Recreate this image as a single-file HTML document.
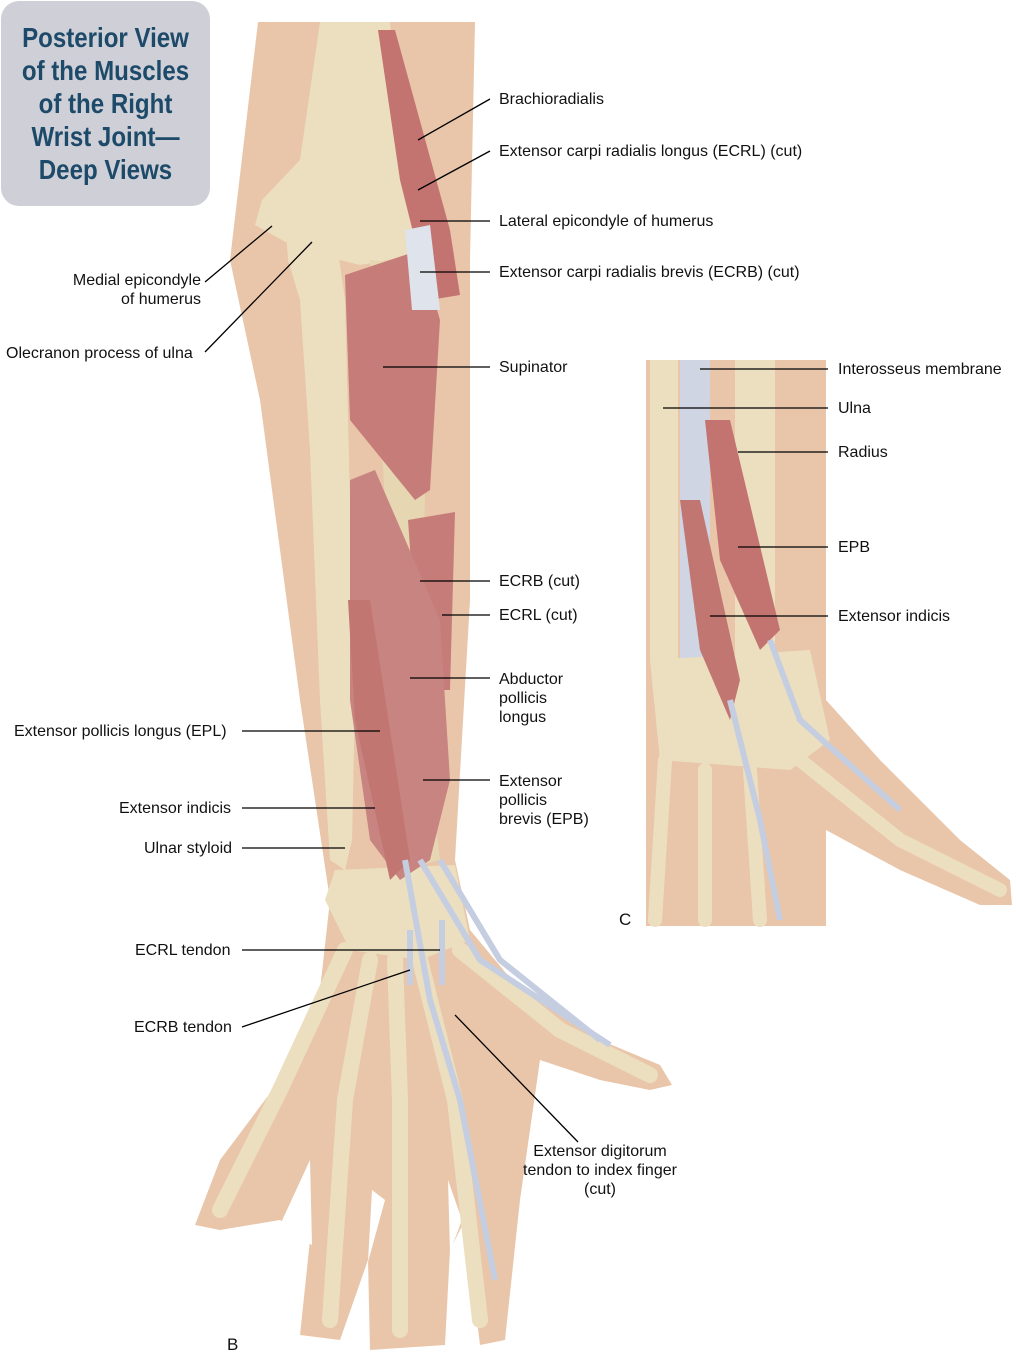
<!DOCTYPE html>
<html><head><meta charset="utf-8"><style>
html,body{margin:0;padding:0;background:#fff;}
body{width:1016px;height:1361px;position:relative;overflow:hidden;font-family:"Liberation Sans",Arial,sans-serif;}
.t{position:absolute;font-size:16px;color:#111;line-height:19px;white-space:nowrap;}
.r{text-align:right;}
#title{position:absolute;left:1px;top:1px;width:209px;height:205px;background:#cfcfd8;border-radius:18px;}
#title div{position:absolute;left:0;width:209px;text-align:center;color:#1d4a68;font-weight:bold;font-size:28px;line-height:33px;top:20px;transform:scaleX(0.86);}
</style></head><body>
<svg width="1016" height="1361" style="position:absolute;left:0;top:0">
<path d="M258 22 L475 22 L470 260 L470 600 L455 860 L470 930 L520 990 L600 1040 L660 1065 L672 1085 L650 1090 L600 1080 L540 1060 L520 1200 L505 1340 L480 1345 L465 1220 L450 1250 L445 1345 L370 1350 L368 1260 L340 1340 L300 1335 L310 1240 L280 1220 L220 1230 L195 1225 L220 1160 L280 1080 L320 990 L330 900 L300 700 L260 400 L230 260 Z" fill="#e9c6aa"/>
<!-- finger gaps -->
<g fill="#fff">
<path d="M280 1225 L310 1160 L312 1245 Z"/>
<path d="M368 1262 L372 1190 L385 1200 Z"/>
<path d="M450 1252 L448 1180 L462 1220 Z"/>
</g>
<path d="M320 22 L390 22 L400 150 L440 200 L445 250 L360 265 L300 250 L255 225 L262 200 L300 160 Z" fill="#ecdfc0"/>
<path d="M285 215 Q320 200 335 230 L345 300 L350 500 L355 700 L352 840 L345 870 L330 860 L320 700 L310 450 L300 300 L288 260 Z" fill="#ecdfc0"/>
<path d="M370 260 L420 265 L425 500 L420 700 L440 860 L400 870 L390 700 L385 500 Z" fill="#e6d6b2"/>
<path d="M335 870 L455 865 L470 940 L420 960 L350 950 L325 900 Z" fill="#ecdfc0"/>
<g stroke="#ecdfc0" stroke-width="16" stroke-linecap="round" fill="none">
<path d="M345 950 L280 1090 L220 1210"/>
<path d="M370 960 L345 1100 L330 1320"/>
<path d="M395 960 L400 1100 L400 1330"/>
<path d="M420 960 L455 1100 L480 1320"/>
<path d="M460 950 L560 1030 L650 1075"/>
</g>
<path d="M345 275 L420 250 L440 320 L430 490 L415 500 L350 420 Z" fill="#c67c78"/>
<path d="M378 30 L395 30 L450 230 L460 295 L430 300 L400 180 Z" fill="#c47470"/>
<path d="M405 230 L430 225 L440 310 L412 310 Z" fill="#dfe3ec"/>
<path d="M408 520 L455 512 L450 690 L420 690 Z" fill="#c67c78"/>
<path d="M350 480 L375 470 L440 620 L450 780 L430 860 L400 880 L370 840 L350 700 Z" fill="#c88480"/>
<path d="M348 600 L370 600 L410 860 L390 880 L355 720 Z" fill="#c27672"/>
<g stroke="#c5cde0" stroke-width="6" fill="none">
<path d="M405 860 L430 1000 L460 1100 L495 1280"/>
<path d="M420 860 L480 960 L610 1045"/>
<path d="M440 860 L500 960 L600 1040"/>
<path d="M410 930 L410 985"/>
<path d="M442 920 L442 985"/>
</g>
<rect x="646" y="360" width="180" height="566" fill="#e9c6aa"/>
<path d="M826 700 L880 760 L960 840 L1010 880 L1012 905 L980 905 L900 870 L826 830 Z" fill="#e9c6aa"/>
<rect x="650" y="360" width="28" height="300" fill="#ecdfc0"/>
<rect x="735" y="360" width="40" height="300" fill="#ecdfc0"/>
<rect x="680" y="360" width="30" height="300" fill="#cfd5e3"/>
<path d="M650 660 L810 650 L830 740 L790 770 L660 760 Z" fill="#ecdfc0"/>
<g stroke="#ecdfc0" stroke-width="14" stroke-linecap="round" fill="none">
<path d="M665 760 L655 920"/><path d="M705 770 L705 920"/><path d="M750 770 L760 920"/><path d="M800 760 L900 840 L1000 890"/>
</g>
<path d="M705 420 L730 420 L780 630 L760 650 L720 560 Z" fill="#c47470"/>
<path d="M680 500 L700 500 L740 680 L730 720 L700 650 Z" fill="#c27672"/>
<g stroke="#c5cde0" stroke-width="6" fill="none">
<path d="M770 640 L800 720 L900 810"/><path d="M730 700 L760 820 L780 920"/>
</g>
<g stroke="#000" stroke-width="1.3" fill="none">
<path d="M490 99 L418 140"/><path d="M490 151 L418 190"/><path d="M490 221 L420 221"/><path d="M490 272 L420 272"/>
<path d="M205 282 L272 226"/><path d="M205 352 L312 242"/><path d="M490 367 L383 367"/>
<path d="M490 581 L420 581"/><path d="M490 615 L442 615"/><path d="M490 678 L410 678"/>
<path d="M242 731 L380 731"/><path d="M490 780 L423 780"/><path d="M242 808 L375 808"/><path d="M242 848 L345 848"/>
<path d="M242 950 L440 950"/><path d="M242 1027 L410 970"/><path d="M578 1142 L455 1015"/>
<path d="M828 369 L700 369"/><path d="M828 408 L663 408"/><path d="M828 452 L738 452"/><path d="M828 547 L738 547"/><path d="M828 616 L710 616"/>
</g>
</svg>
<div id="title"><div>Posterior View<br>of the Muscles<br>of the Right<br>Wrist Joint—<br>Deep Views</div></div>
<div class="t" style="left:499px;top:90px">Brachioradialis</div>
<div class="t" style="left:499px;top:142px">Extensor carpi radialis longus (ECRL) (cut)</div>
<div class="t" style="left:499px;top:212px">Lateral epicondyle of humerus</div>
<div class="t" style="left:499px;top:263px">Extensor carpi radialis brevis (ECRB) (cut)</div>
<div class="t r" style="right:815px;top:271px">Medial epicondyle<br>of humerus</div>
<div class="t" style="left:6px;top:344px">Olecranon process of ulna</div>
<div class="t" style="left:499px;top:358px">Supinator</div>
<div class="t" style="left:838px;top:360px">Interosseus membrane</div>
<div class="t" style="left:838px;top:399px">Ulna</div>
<div class="t" style="left:838px;top:443px">Radius</div>
<div class="t" style="left:838px;top:538px">EPB</div>
<div class="t" style="left:838px;top:607px">Extensor indicis</div>
<div class="t" style="left:499px;top:572px">ECRB (cut)</div>
<div class="t" style="left:499px;top:606px">ECRL (cut)</div>
<div class="t" style="left:499px;top:670px">Abductor<br>pollicis<br>longus</div>
<div class="t" style="left:14px;top:722px">Extensor pollicis longus (EPL)</div>
<div class="t" style="left:499px;top:772px">Extensor<br>pollicis<br>brevis (EPB)</div>
<div class="t" style="left:119px;top:799px">Extensor indicis</div>
<div class="t" style="left:144px;top:839px">Ulnar styloid</div>
<div class="t" style="left:619px;top:910px;font-size:17px">C</div>
<div class="t" style="left:135px;top:941px">ECRL tendon</div>
<div class="t" style="left:134px;top:1018px">ECRB tendon</div>
<div class="t" style="left:520px;top:1142px;text-align:center;width:180px;margin-left:-10px">Extensor digitorum<br>tendon to index finger<br>(cut)</div>
<div class="t" style="left:227px;top:1335px;font-size:17px">B</div>
</body></html>
